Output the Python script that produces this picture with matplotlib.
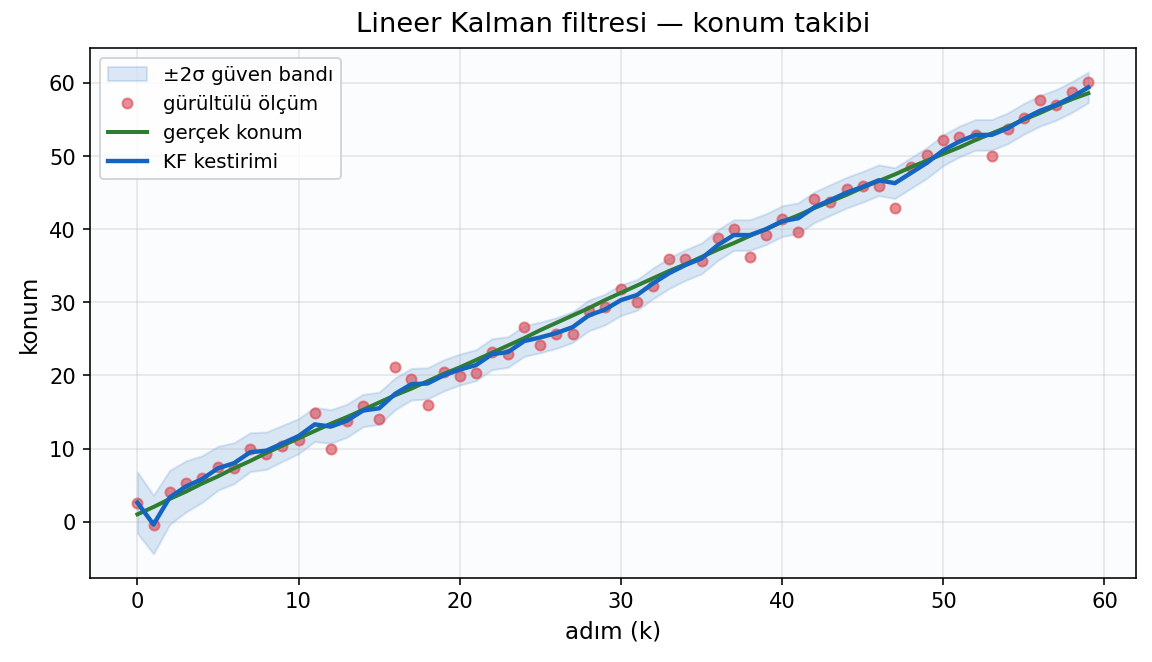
import numpy as np
import matplotlib
matplotlib.use("Agg")
import matplotlib.pyplot as plt

# time steps
steps = list(range(60))

measured = [2.6, -0.5, 4.0, 5.3, 5.9, 7.5, 7.3, 9.9, 9.2, 10.4,
            11.1, 14.8, 10.0, 13.7, 15.8, 14.0, 21.2, 19.5, 15.9, 20.4,
            19.9, 20.3, 23.2, 22.9, 26.6, 24.1, 25.7, 25.6, 28.8, 29.4,
            31.8, 30.1, 32.3, 35.9, 35.9, 35.6, 38.8, 40.0, 36.2, 39.2,
            41.4, 39.6, 44.1, 43.7, 45.5, 45.9, 45.9, 42.9, 48.5, 50.1,
            52.2, 52.6, 52.9, 50.0, 53.7, 55.2, 57.7, 57.0, 58.8, 60.1]

# true position
true_pos = [1.0, 2.0, 3.1, 4.1, 5.2, 6.2, 7.3, 8.3, 9.4, 10.4,
            11.4, 12.4, 13.4, 14.3, 15.3, 16.3, 17.3, 18.2, 19.2, 20.2,
            21.1, 22.1, 23.1, 24.1, 25.1, 26.2, 27.2, 28.2, 29.2, 30.3,
            31.3, 32.3, 33.3, 34.3, 35.2, 36.2, 37.2, 38.1, 39.1, 40.0,
            41.0, 41.9, 42.9, 43.8, 44.7, 45.7, 46.6, 47.5, 48.5, 49.4,
            50.3, 51.2, 52.2, 53.1, 54.0, 55.0, 55.9, 56.9, 57.8, 58.6]

# Kalman filter estimate
kf_est = [2.6, -0.4, 3.3, 4.8, 5.8, 7.3, 8.0, 9.5, 9.7, 10.7,
          11.7, 13.3, 13.0, 13.8, 15.2, 15.5, 17.5, 18.8, 18.9, 20.0,
          20.8, 21.4, 22.9, 23.2, 24.7, 25.2, 25.8, 26.6, 28.2, 29.0,
          30.3, 31.0, 32.6, 34.0, 35.1, 36.0, 37.8, 39.2, 39.2, 40.0,
          41.1, 41.5, 43.0, 44.0, 45.0, 45.8, 46.7, 46.3, 47.7, 49.1,
          50.8, 52.0, 52.9, 52.9, 53.8, 55.1, 56.2, 57.0, 58.1, 59.4]

# estimate standard deviation
kf_std = [2.1, 2.0, 1.85, 1.75, 1.6, 1.5, 1.4, 1.33, 1.28, 1.23,
          1.2, 1.17, 1.15, 1.13, 1.11, 1.1, 1.09, 1.08, 1.07, 1.07,
          1.06, 1.06, 1.06, 1.05, 1.05, 1.05, 1.05, 1.05, 1.05, 1.05,
          1.05, 1.05, 1.05, 1.05, 1.05, 1.05, 1.05, 1.05, 1.05, 1.05,
          1.05, 1.05, 1.05, 1.05, 1.05, 1.05, 1.05, 1.05, 1.05, 1.05,
          1.05, 1.05, 1.05, 1.05, 1.05, 1.05, 1.05, 1.05, 1.05, 1.05]

k = np.array(steps)
est = np.array(kf_est)
sd = np.array(kf_std)

fig, ax = plt.subplots(figsize=(8, 4.6), dpi=144)
ax.set_facecolor("#fbfcfd")

ax.fill_between(k, est - 2 * sd, est + 2 * sd, color="#1565c0", alpha=0.15,
                label="±2σ güven bandı")
ax.plot(k, measured, "o", color="#d9444f", alpha=0.6, markersize=5,
        label="gürültülü ölçüm")
ax.plot(k, true_pos, color="#2e7d32", linewidth=2, label="gerçek konum")
ax.plot(k, est, color="#1565c0", linewidth=2.2, label="KF kestirimi")

ax.set_title("Lineer Kalman filtresi — konum takibi", fontsize=13.7, pad=8)
ax.set_xlabel("adım (k)", fontsize=11.5)
ax.set_ylabel("konum", fontsize=11.5)
ax.tick_params(labelsize=10.5)
ax.grid(True, alpha=0.3)
ax.legend(loc="upper left", fontsize=9.9)

fig.subplots_adjust(left=0.078, right=0.986, top=0.927, bottom=0.127)
fig.savefig("out.png", dpi=144)
